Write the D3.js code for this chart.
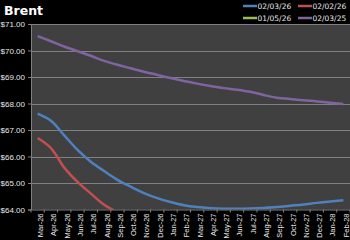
<!DOCTYPE html>
<html lang="en">
<head>
<meta charset="UTF-8">
<title>Brent</title>
<style>
    body { margin: 0; background: #000; }
    svg { display: block; font-family: "DejaVu Sans", sans-serif; }
    .grid line { stroke: #808080; stroke-width: 1px; }
    .series { fill: none; stroke-width: 2.5px; stroke-linejoin: round; }
</style>
</head>
<body>
<svg id="main" width="350" height="240"></svg>
<script src="https://cdn.jsdelivr.net/npm/d3@7/dist/d3.min.js"></script>
<script>
var months = ["Mar-26", "Apr-26", "May-26", "Jun-26", "Jul-26", "Aug-26", "Sep-26", "Oct-26",
    "Nov-26", "Dec-26", "Jan-27", "Feb-27", "Mar-27", "Apr-27", "May-27", "Jun-27",
    "Jul-27", "Aug-27", "Sep-27", "Oct-27", "Nov-27", "Dec-27", "Jan-28", "Feb-28"];

var curve_020326 = [67.62, 67.35, 66.8, 66.25, 65.8, 65.45, 65.12, 64.86, 64.62, 64.43, 64.28, 64.16,
    64.09, 64.05, 64.03, 64.03, 64.04, 64.06, 64.09, 64.14, 64.19, 64.25, 64.3, 64.35];
var curve_020226 = [66.7, 66.32, 65.58, 65.04, 64.6, 64.18, 63.9];
var curve_010526 = [];
var curve_020325 = [70.54, 70.35, 70.15, 69.97, 69.8, 69.61, 69.46, 69.33, 69.2, 69.08, 68.96, 68.85,
    68.75, 68.66, 68.58, 68.52, 68.44, 68.32, 68.22, 68.17, 68.12, 68.08, 68.03, 67.98];

var yTicks = [64, 65, 66, 67, 68, 69, 70, 71];

var series = [
    { name: "02/03/26", color: "#4f81bd", values: curve_020326 },
    { name: "02/02/26", color: "#c0504d", values: curve_020226 },
    { name: "01/05/26", color: "#9bbb59", values: curve_010526 },
    { name: "02/03/25", color: "#8064a2", values: curve_020325 }
];

var svg = d3.select("#main"),
    plotL = 31, plotR = 350, plotT = 24, plotB = 209.5;

var x = d3.scaleBand().domain(months).range([plotL, plotR]);
var y = d3.scaleLinear().domain([64, 71]).range([plotB, plotT]);

svg.append("text")
    .attr("x", 4).attr("y", 15)
    .attr("fill", "#fff")
    .style("font-size", "12.5px").style("font-weight", "bold")
    .text("Brent");

svg.append("rect")
    .attr("x", plotL).attr("y", plotT)
    .attr("width", plotR - plotL).attr("height", plotB - plotT)
    .attr("fill", "#404040");

svg.append("g").attr("class", "grid")
    .selectAll("line").data(yTicks.slice(1)).join("line")
    .attr("x1", plotL).attr("x2", plotR)
    .attr("y1", d => Math.round(y(d)) + 0.5).attr("y2", d => Math.round(y(d)) + 0.5);

svg.append("clipPath").attr("id", "plot")
    .append("rect")
    .attr("x", plotL).attr("y", plotT)
    .attr("width", plotR - plotL).attr("height", plotB - plotT);

var line = d3.line()
    .x((d, i) => x(months[i]) + x.bandwidth() / 2)
    .y(d => y(d))
    .curve(d3.curveCatmullRom);

svg.append("g").attr("clip-path", "url(#plot)")
    .selectAll("path").data(series).join("path")
    .attr("class", "series")
    .attr("stroke", d => d.color)
    .attr("d", d => d.values.length ? line(d.values) : null);

// y axis
var yAxis = svg.append("g")
    .attr("transform", "translate(" + plotL + ",0)")
    .call(d3.axisLeft(y).tickValues(yTicks).tickSize(3).tickPadding(3)
        .tickFormat(d => "$" + d3.format(".2f")(d)));
yAxis.select(".domain").attr("stroke", "#808080");
yAxis.selectAll(".tick line").attr("stroke", "#808080");
yAxis.selectAll("text").attr("fill", "#e8e8e8").style("font-size", "8px");

// x axis
var xAxis = svg.append("g")
    .attr("transform", "translate(0," + plotB + ")")
    .call(d3.axisBottom(x).tickSize(0));
xAxis.select(".domain").attr("stroke", "#808080");
xAxis.selectAll(".tick line").remove();
xAxis.selectAll(".tick text")
    .attr("fill", "#e8e8e8").style("font-size", "7.5px")
    .attr("text-anchor", "end")
    .attr("dy", "0.32em")
    .attr("transform", "translate(0,4) rotate(-90)");

xAxis.selectAll(".bound").data(months.concat([""])).join("line")
    .attr("class", "bound")
    .attr("x1", (d, i) => plotL + i * x.step()).attr("x2", (d, i) => plotL + i * x.step())
    .attr("y1", 0).attr("y2", 3)
    .attr("stroke", "#808080");

// legend
var legend = svg.append("g")
    .selectAll("g").data(series).join("g")
    .attr("transform", (d, i) => "translate(" + (243 + (i % 2) * 55) + "," + (6 + Math.floor(i / 2) * 12) + ")");
legend.append("line")
    .attr("x1", 0).attr("x2", 14)
    .attr("stroke", d => d.color).attr("stroke-width", 2.5);
legend.append("text")
    .attr("x", 14.5).attr("dy", "0.35em")
    .attr("fill", "#e8e8e8").style("font-size", "7.5px")
    .text(d => d.name);
</script>
</body>
</html>
